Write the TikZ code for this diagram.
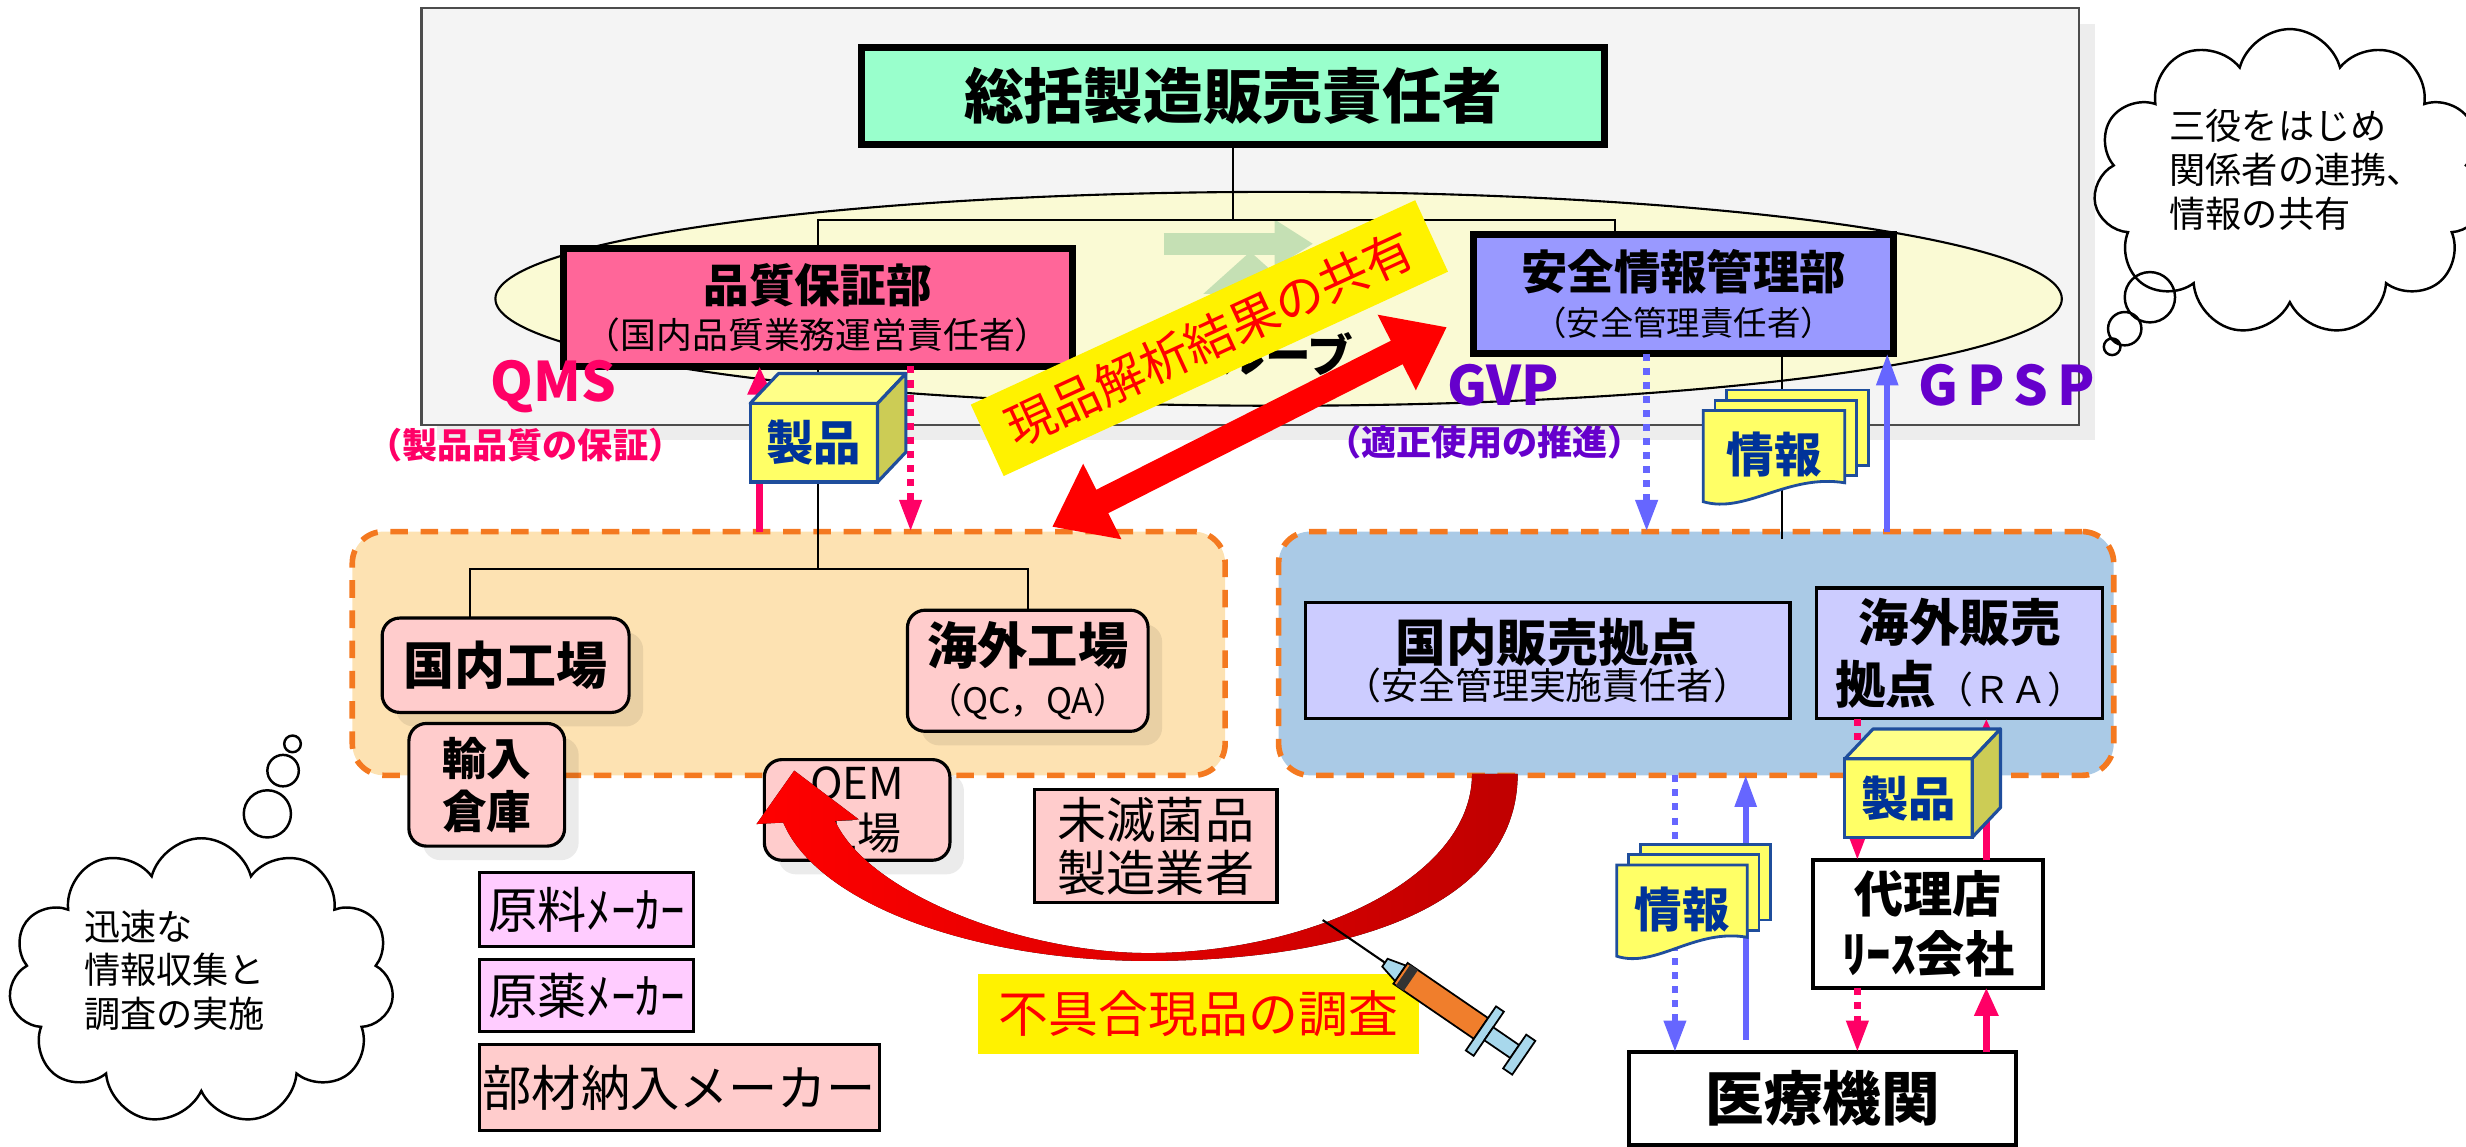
\documentclass[tikz,border=0pt]{standalone}
\usepackage{fontspec}
\setmainfont{Noto Sans CJK JP}
\usetikzlibrary{arrows.meta,calc,shapes.geometric,shapes.symbols,shadows}

\definecolor{panelgray}{HTML}{F4F4F4}
\definecolor{creamy}{HTML}{FAFAD4}
\definecolor{mintgreen}{HTML}{99FFCC}
\definecolor{mgrpink}{HTML}{FF6699}
\definecolor{mgrblue}{HTML}{9999FF}
\definecolor{zoneorange}{HTML}{FDE2B2}
\definecolor{zoneblue}{HTML}{AACAE6}
\definecolor{dashorange}{HTML}{F47920}
\definecolor{plantpink}{HTML}{FFCCCC}
\definecolor{makerviolet}{HTML}{FFCCFF}
\definecolor{salesviolet}{HTML}{CCCCFF}
\definecolor{qmsred}{HTML}{FF0066}
\definecolor{gvppurple}{HTML}{6600CC}
\definecolor{infoblue}{HTML}{6666FF}
\definecolor{cubefront}{HTML}{FFFF66}
\definecolor{cubetop}{HTML}{FFFF88}
\definecolor{cubeside}{HTML}{CCCC55}
\definecolor{cubeline}{HTML}{1F4E9C}
\definecolor{cubetext}{HTML}{003399}
\definecolor{fadegreen}{HTML}{C5E0B4}
\definecolor{curvedark}{HTML}{C00000}
\definecolor{syringeblue}{HTML}{A8D8EC}
\definecolor{barrelorange}{HTML}{F07E2C}

% one pixel of the layout grid
\def\unitpx{0.015727cm}

\tikzset{
  sz/.style 2 args={minimum width=#1*\unitpx, minimum height=#2*\unitpx, inner sep=0pt, outer sep=0pt},
  tree/.style={draw=black, line width=0.6pt},
  mgrbox/.style={draw=black, line width=2pt, align=center},
  plant/.style={draw=black, fill=plantpink, rounded corners=5pt, line width=0.9pt, align=center,
    font=\fontsize{13.5}{15}\selectfont\bfseries,
    drop shadow={shadow xshift=4pt, shadow yshift=-4pt, fill=black, opacity=0.08}},
  maker/.style={draw=black, line width=0.9pt, align=center, font=\fontsize{14}{15.5}\selectfont},
  salesbox/.style={draw=black, fill=salesviolet, line width=1pt, align=center},
  client/.style={draw=black, fill=white, line width=1.1pt, align=center},
  zone/.style={draw=dashorange, line width=1.6pt, dash pattern=on 5pt off 3.6pt, rounded corners=9pt},
  cubeface/.style={draw=cubeline, fill=cubefront, line width=0.9pt, sz={81}{50},
    text=cubetext, font=\fontsize{13.5}{15}\selectfont\bfseries},
  cubeedge/.style={draw=cubeline, line width=0.9pt, line join=round},
  docedge/.style={draw=cubeline, line width=0.8pt, fill=cubefront},
  doctext/.style={text=cubetext, font=\fontsize{13.5}{15}\selectfont\bfseries},
  magup/.style={draw=qmsred, line width=1.8pt, -{Triangle[length=8pt,width=6.5pt]}},
  magdown/.style={draw=qmsred, line width=1.9pt, dash pattern=on 2pt off 2pt, -{Triangle[length=9pt,width=6pt]}},
  infoup/.style={draw=infoblue, line width=1.6pt, -{Triangle[length=9pt,width=6pt]}},
  infodown/.style={draw=infoblue, line width=1.9pt, dash pattern=on 2pt off 2pt, -{Triangle[length=9pt,width=6pt]}},
  gp/.style={font=\fontsize{15.5}{17}\selectfont\bfseries},
  gpnote/.style={font=\fontsize{10}{12}\selectfont\bfseries},
  thought/.style={cloud, draw=black, fill=white, line width=0.7pt, cloud puffs=11, cloud ignores aspect},
  cloudtext/.style={anchor=west, align=left, inner sep=0pt, font=\fontsize{10.3}{12.5}\selectfont},
}

% product box drawn as a small cube
\newcommand{\prodcube}[3]{%
  \node[cubeface] (#1) at (#2,#3) {製品};
  \filldraw[cubeedge, fill=cubetop] (#1.north west) -- ++(18,-19) -- ++(81,0) -- (#1.north east) -- cycle;
  \filldraw[cubeedge, fill=cubeside] (#1.north east) -- ++(18,-19) -- ++(0,50) -- (#1.south east) -- cycle;
}

% stack of three information sheets, front sheet with a wavy foot
\newcommand{\infostack}[4]{%
  \foreach \k in {2,1}
    \filldraw[docedge] (#2+7.5*\k,#3-6.5*\k) rectangle ++(#4,48);
  \filldraw[docedge] (#2,#3) -- ++(#4,0) -- ++(0,46)
    .. controls (#2+0.6*#4,#3+40) and (#2+0.3*#4,#3+66) .. (#2,#3+58) -- cycle;
  \node[doctext] (#1) at (#2+#4/2,#3+28) {情報};
}

\begin{document}
\begin{tikzpicture}[x=0.015727cm, y=-0.015727cm]
\useasboundingbox (0,0) rectangle (1568,729);

% head office panel
\node[sz={1054}{265}, fill=panelgray, draw=black!70, line width=0.6pt,
  drop shadow={shadow xshift=4.5pt, shadow yshift=-4.5pt, fill=black, opacity=0.07}] (panel) at (795,137.5) {};
\node[ellipse, draw=black, fill=creamy, line width=0.6pt, sz={996}{136}] (loop) at (813,190) {};

% faded cycle arrows inside the loop
\draw[fadegreen, line width=6.2pt, -{Triangle[length=11pt,width=13pt]}] (740,155) -- (835,155);
\draw[fadegreen, line width=6.2pt, -{Triangle[length=12pt,width=26pt]}] (795,215) -- (795,160);
\node[font=\fontsize{13}{15}\selectfont\bfseries] (loopname) at (818,225) {ルーブ};

% the three managers
\node[mgrbox, fill=mintgreen, sz={472}{62}, font=\fontsize{17}{20}\selectfont\bfseries] (chief) at (784,61) {総括製造販売責任者};
\node[mgrbox, fill=mgrpink, sz={324}{75}] (qa) at (520,195.5)
  {{\fontsize{13}{15}\selectfont\bfseries 品質保証部}\\[1pt]{\fontsize{10.2}{12}\selectfont （国内品質業務運営責任者）}};
\node[mgrbox, fill=mgrblue, sz={267}{76}] (sv) at (1070.5,187)
  {{\fontsize{13.2}{15}\selectfont\bfseries 安全情報管理部}\\[1pt]{\fontsize{9.5}{11}\selectfont （安全管理責任者）}};

\draw[tree] (chief.south) -- ++(0,48) coordinate (tj);
\draw[tree] (qa.north) |- (tj);
\draw[tree] (tj) -| ($(sv.north west)+(90,0)$);

% GQP / GVP / GPSP labels
\node[gp, text=qmsred] (qms) at (352,246) {QMS};
\node[gpnote, text=qmsred] (qmsnote) at (334,283) {（製品品質の保証）};
\node[gp, text=gvppurple] (gvp) at (956,245) {GVP};
\node[gp, text=gvppurple] (gpsp) at (1276,245) {G\,P\,S\,P};
\node[gpnote, text=gvppurple] (gvpnote) at (944,281) {（適正使用の推進）};

% manufacturing and sales zones
\node[zone, fill=zoneorange, sz={555}{155}] (plants) at (501.5,415.5) {};
\node[zone, fill=zoneblue, sz={531}{155}] (sales) at (1078.5,415.5) {};

% plants
\node[plant, sz={157}{60}, font=\fontsize{14.5}{16}\selectfont\bfseries] (plantdom) at (321.5,423) {国内工場};
\node[plant, sz={153}{77}] (plantovs) at (653.5,426.5)
  {{\fontsize{14.3}{16}\selectfont 海外工場}\\[-1pt]{\fontsize{10}{12}\selectfont\mdseries （QC，QA）}};
\node[plant, sz={99}{78}, font=\fontsize{12.7}{15}\selectfont\bfseries] (whs) at (309.5,499) {輸入\\倉庫};
\node[plant, sz={118}{64}, font=\fontsize{12.5}{14}\selectfont] (oem) at (545,515) {OEM\\工場};

\draw[tree] (qa.south) -- ++(0,129) coordinate (pj);
\draw[tree] ($(plantdom.north west)+(56,0)$) |- (pj) -| (plantovs.north);

% sales bases
\node[salesbox, sz={308}{74}] (salesdom) at (984,420)
  {{\fontsize{14.4}{16}\selectfont\bfseries 国内販売拠点}\\[-1pt]{\fontsize{10.5}{12}\selectfont （安全管理実施責任者）}};
\node[salesbox, sz={182}{83}, font=\fontsize{14.4}{17.8}\selectfont\bfseries] (salesovs) at (1246,415.5)
  {海外販売\\拠点{\fontsize{10.5}{12}\selectfont\mdseries （ＲＡ）}};

% QMS flows between head office and plants
\coordinate (qmsup) at ($(qa.south west)+(125,0)$);
\coordinate (qmsdn) at ($(qa.south west)+(221,0)$);
\draw[magup] (qmsup |- plants.north) -- (qmsup);
\draw[magdown] (qmsdn) -- (qmsdn |- plants.north);
\prodcube{prodqa}{517.5}{281.5}

% GVP / GPSP flows between head office and sales
\coordinate (gvpdn) at ($(sv.south west)+(110,0)$);
\coordinate (gpspup) at ($(sv.south west)+(263,0)$);
\coordinate (svline) at ($(sv.south west)+(196,0)$);
\draw[infodown] (gvpdn) -- (gvpdn |- sales.north);
\draw[infoup] (gpspup |- sales.north) -- (gpspup);
\draw[tree] (svline) -- ($(svline |- sales.north)+(0,5)$);
\infostack{infosv}{1083}{261}{90}

% dealers and hospitals
\node[client, sz={146}{81}, font=\fontsize{14}{17}\selectfont\bfseries] (agent) at (1226,587.5) {代理店\\ﾘｰｽ会社};
\node[client, sz={246}{59}, font=\fontsize{16.7}{19}\selectfont\bfseries] (hosp) at (1159,698.5) {医療機関};

\coordinate (hdn) at ($(hosp.north west)+(29,0)$);
\coordinate (hup) at ($(hosp.north west)+(74,0)$);
\draw[infodown] (hdn |- sales.south) -- (hdn);
\draw[infoup] ($(hup)+(0,-8)$) -- (hup |- sales.south);
\infostack{infohosp}{1028}{550}{83}

\coordinate (adn) at ($(agent.north west)+(28,0)$);
\coordinate (aup) at ($(agent.north west)+(110,0)$);
\draw[magdown] (adn |- salesovs.south) -- (adn);
\draw[magup] (aup) -- (aup |- salesovs.south);
\draw[magdown] (adn |- agent.south) -- (adn |- hosp.north);
\draw[magup] (aup |- hosp.north) -- (aup |- agent.south);
\prodcube{prodovs}{1213.5}{507.5}

% suppliers
\node[maker, fill=plantpink, sz={154}{72}, font=\fontsize{14}{15.2}\selectfont] (steril) at (735,538) {未滅菌品\\製造業者};
\node[maker, fill=makerviolet, sz={136}{47}] (rawmat) at (373,578.5) {原料ﾒｰｶｰ};
\node[maker, fill=makerviolet, sz={136}{46}] (rawdrug) at (373,633) {原薬ﾒｰｶｰ};
\node[maker, fill=plantpink, sz={254}{55}] (parts) at (432,691.5) {部材納入メーカー};

% investigation of the returned product
\fill[left color=red, right color=curvedark]
  (505,490) -- (546,521) -- (531,522)
  .. controls (552,568) and (650,606) .. (730,606)
  .. controls (830,606) and (936,560) .. (936,492)
  -- (965,492)
  .. controls (965,580) and (850,611) .. (730,611)
  .. controls (620,611) and (520,575) .. (498,523)
  -- (481,524) -- cycle;
\node[fill=yellow, text=red, sz={280}{51}, font=\fontsize{14.2}{16}\selectfont] (probe) at (762,644.5) {不具合現品の調査};

% syringe
\begin{scope}[shift={(841,585)}, rotate=-34.4]
  \draw[line width=0.6pt] (0,0) -- (50,0);
  \filldraw[draw=black, line width=0.5pt, fill=syringeblue] (48,-3) -- (60,-6) -- (60,6) -- (48,3) -- cycle;
  \filldraw[draw=black, line width=0.5pt, fill=barrelorange] (60,-8) rectangle (122,8);
  \fill[black!80] (62,-8) rectangle (68,8);
  \filldraw[draw=black, line width=0.5pt, fill=syringeblue] (122,-17) rectangle (128,17);
  \filldraw[draw=black, line width=0.5pt, fill=syringeblue] (128,-5) rectangle (148,5);
  \filldraw[draw=black, line width=0.5pt, fill=syringeblue] (148,-13) rectangle (155,13);
\end{scope}

% sharing the analysis results
\coordinate (shareL) at ($(plants.north east)+(-110,-3)$);
\coordinate (shareR) at ($(sv.west)+(-17,21)$);
\draw[red, line width=7.5pt, {Triangle[length=16pt,width=23pt]}-{Triangle[length=16pt,width=23pt]}] (shareL) -- (shareR);
\node[fill=yellow, text=red, rotate=24.7, sz={311}{50}, font=\fontsize{14}{16}\selectfont] (share) at (769,215) {現品解析結果の共有};

% thought clouds
\node[thought, sz={245}{182}] (cloudL) at (128,624) {};
\node[cloudtext] (cloudLtext) at (53,617) {迅速な\\情報収集と\\調査の実施};
\draw[line width=0.7pt] (186,473) circle[radius=5.3] (180,490) circle[radius=10] (170,517.5) circle[radius=15];

\node[thought, sz={250}{195}] (cloudR) at (1456,116) {};
\node[cloudtext] (cloudRtext) at (1379,108) {三役をはじめ\\関係者の連携、\\情報の共有};
\draw[line width=0.7pt] (1367,189) circle[radius=16] (1351,209) circle[radius=10.6] (1343,220.5) circle[radius=5.3];

\end{tikzpicture}
\end{document}
